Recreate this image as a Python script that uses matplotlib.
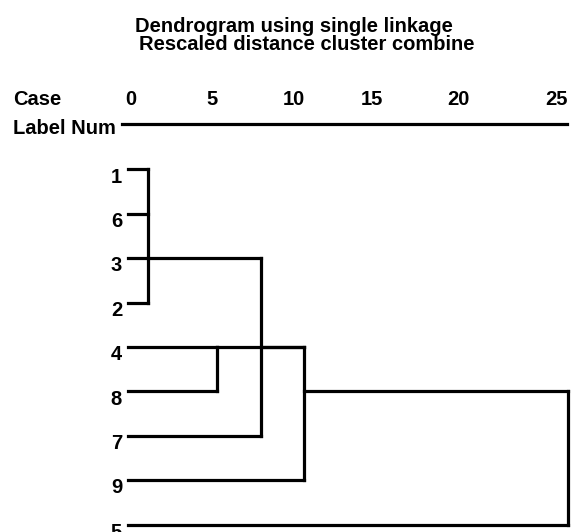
import matplotlib
matplotlib.use('Agg')
import matplotlib.pyplot as plt
from matplotlib.transforms import blended_transform_factory

# ---------------- data ----------------
leaf_labels = ['1', '6', '3', '2', '4', '8', '7', '9', '5']
merge_names = ['A', 'B', 'C', 'D', 'E']
merge_dist = [0.95, 4.9, 7.45, 9.9, 25.0]         # rescaled distance of each merge
merge_children = [[0, 1, 2, 3], [4, 5], ['A', 6], ['B', 'C', 7], ['D', 8]]
merge_out_row = [2, 4, 4, 5, None]                 # row where a merge's line leaves to its parent
tick_labels = ['0', '5', '10', '15', '20', '25']
tick_label_pos = [0, 4.63, 9.33, 13.79, 18.71, 24.37]
title_lines = ['Dendrogram using single linkage', 'Rescaled distance cluster combine']

# ---------------- layout ----------------
W, H, DPI = 571, 532, 100
x0_px, unit_px = 131.0, 17.48      # pixel of distance 0, pixels per unit
row0_px, row_px = 169.5, 44.4      # pixel of first row, pixels per row
leaf_start = -0.2
LW = 2.3
FS = 14.5
FONT = 'Liberation Sans'

fig = plt.figure(figsize=(W / DPI, H / DPI), dpi=DPI)
ax = fig.add_axes([0, 0, 1, 1])
ax.set_xlim(-x0_px / unit_px, (W - x0_px) / unit_px)
ax.set_ylim((H - row0_px) / row_px, -row0_px / row_px)
ax.axis('off')

def fy(px):
    return 1 - px / H

line_kw = dict(color='black', lw=LW, solid_capstyle='projecting')

# node info: x start and row
node_x = {i: leaf_start for i in range(len(leaf_labels))}
node_row = {i: i for i in range(len(leaf_labels))}
for name, d, out in zip(merge_names, merge_dist, merge_out_row):
    node_x[name] = d
    node_row[name] = out

for name, d, children in zip(merge_names, merge_dist, merge_children):
    rows = [node_row[c] for c in children]
    ax.plot([d, d], [min(rows), max(rows)], **line_kw)
    for c in children:
        ax.plot([node_x[c], d], [node_row[c], node_row[c]], **line_kw)

# leaf labels
for i, lab in enumerate(leaf_labels):
    ax.annotate(lab, (-0.51, i), xytext=(0, -9.4), textcoords='offset points',
                ha='right', va='baseline', fontsize=FS, fontweight='bold', family=FONT)

# header axis line
tr = blended_transform_factory(ax.transData, fig.transFigure)
ax.plot([-0.51, 24.94], [fy(124), fy(124)], transform=tr, **line_kw)
for lab, pos in zip(tick_labels, tick_label_pos):
    ax.text(pos, fy(105), lab, transform=tr, ha='center', va='baseline',
            fontsize=FS, fontweight='bold', family=FONT)
fig.text(13 / W, fy(105), 'Case', ha='left', va='baseline',
         fontsize=FS, fontweight='bold', family=FONT)
fig.text(13 / W, fy(134), 'Label Num', ha='left', va='baseline',
         fontsize=FS, fontweight='bold', family=FONT)

# titles
fig.text(294 / W, fy(32), title_lines[0], ha='center', va='baseline',
         fontsize=FS, fontweight='bold', family=FONT)
fig.text(307 / W, fy(50), title_lines[1], ha='center', va='baseline',
         fontsize=FS, fontweight='bold', family=FONT)

fig.savefig('out.png', dpi=DPI)
